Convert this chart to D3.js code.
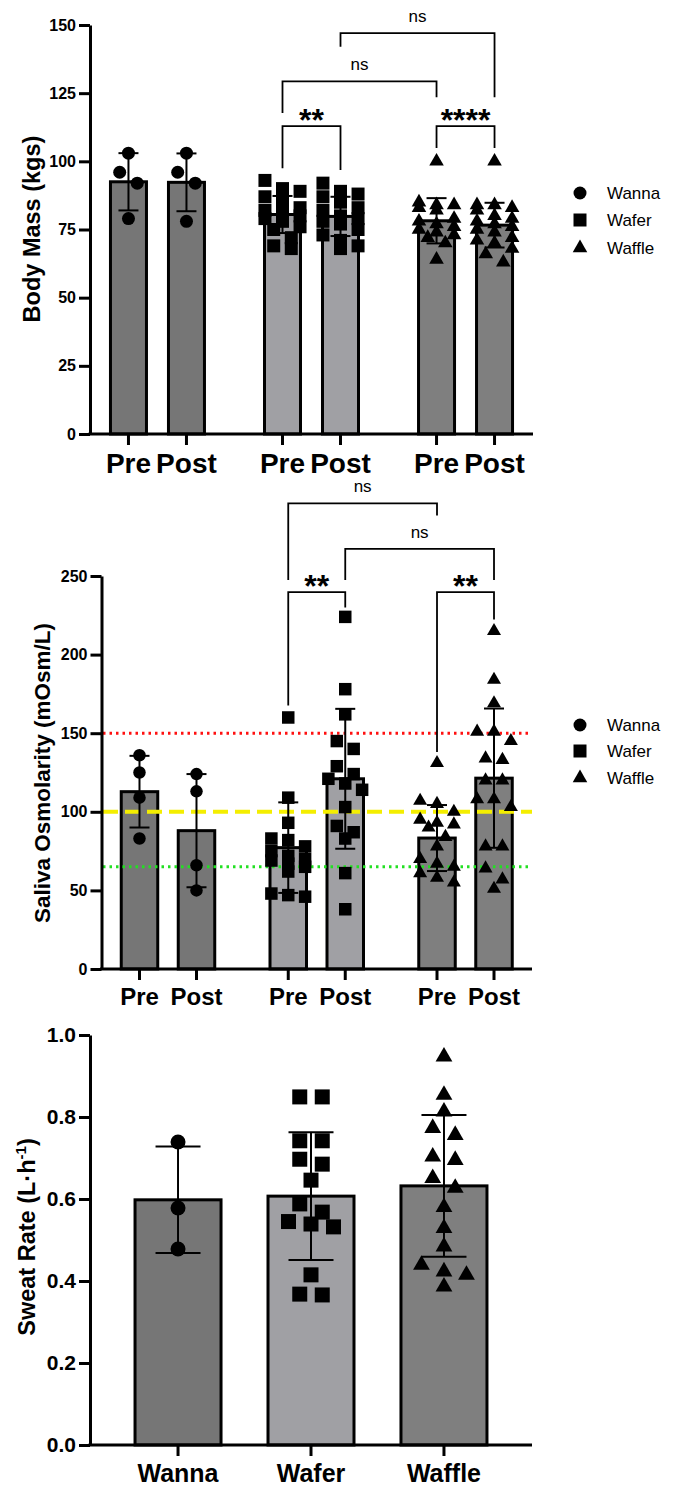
<!DOCTYPE html>
<html><head><meta charset="utf-8">
<script src="https://cdn.jsdelivr.net/npm/d3@7"></script>
<style>
body{margin:0;background:#fff}
svg{display:block}
text{font-family:"Liberation Sans",Arial,Helvetica,sans-serif;fill:#000}
</style>
</head><body>
<svg id="chart" width="675" height="1495"></svg>
<script>
// ---------------- DATA ----------------
const groups = ["Wanna", "Wafer", "Waffle"];
const phases = ["Pre", "Post"];

// Panel 1: Body Mass (kgs)
const massTicks = [0, 25, 50, 75, 100, 125, 150];
const massMean = { Wanna: [92.5, 92.3], Wafer: [80.5, 79.8], Waffle: [78.2, 76.6] };
const massSD   = { Wanna: [10.5, 10.6], Wafer: [6.8, 7.2], Waffle: [8.3, 8.2] };
const massWannaPre   = [103, 96, 92, 79];
const massWannaPost  = [103, 96, 92, 78];
const massWaferPre   = [93, 90, 89, 87, 85, 83, 82, 81, 80, 79, 78, 76, 75, 72, 69, 68];
const massWaferPost  = [92, 89, 88, 87, 85, 83, 82, 80, 79, 78, 77, 75, 73, 71, 69, 68];
const massWafflePre  = [100, 85, 84, 84, 83, 82, 79, 78, 77, 76, 75, 74, 73, 72, 70, 64];
const massWafflePost = [100, 84, 84, 83, 82, 80, 79, 78, 77, 76, 75, 74, 72, 71, 70, 68, 66, 63];
const massBrackets = [
  { a: ["Wafer", "Post"], b: ["Waffle", "Post"], top: 147, endA: 142, endB: 123.5, label: "ns" },
  { a: ["Wafer", "Pre"],  b: ["Waffle", "Pre"],  top: 129.3, endA: 117.7, endB: 123.5, label: "ns" },
  { a: ["Wafer", "Pre"],  b: ["Wafer", "Post"],  top: 112.9, endA: 97.5, endB: 96.8, label: "**" },
  { a: ["Waffle", "Pre"], b: ["Waffle", "Post"], top: 112.9, endA: 104.9, endB: 104.9, label: "****" }
];

// Panel 2: Saliva Osmolarity (mOsm/L)
const osmTicks = [0, 50, 100, 150, 200, 250];
const osmMean = { Wanna: [112.8, 88], Wafer: [77.2, 121], Waffle: [83.3, 121.4] };
const osmSD   = { Wanna: [22.8, 36], Wafer: [28.8, 44.5], Waffle: [21, 44.3] };
const osmWannaPre   = [136, 125, 109, 83];
const osmWannaPost  = [124, 113, 66, 50];
const osmWaferPre   = [160, 109, 93, 83, 82, 78, 75, 72, 70, 69, 67, 65, 62, 48, 47, 46];
const osmWaferPost  = [224, 178, 162, 145, 140, 129, 124, 121, 118, 114, 103, 91, 87, 83, 61, 38];
const osmWafflePre  = [131, 107, 105, 100, 95, 93, 92, 90, 84, 78, 70, 67, 65, 61, 58, 55];
const osmWafflePost = [215, 184, 169, 151, 151, 145, 134, 133, 120, 120, 108, 108, 103, 78, 78, 64, 57, 51];
const osmRefLines = [150, 100, 65]; // red dotted, yellow dashed, green dotted
const osmBrackets = [
  { a: ["Wafer", "Pre"],  b: ["Waffle", "Pre"],  top: 296.2, endA: 247.5, endB: 288.5, label: "ns" },
  { a: ["Wafer", "Post"], b: ["Waffle", "Post"], top: 267.2, endA: 247.5, endB: 247.5, label: "ns" },
  { a: ["Wafer", "Pre"],  b: ["Wafer", "Post"],  top: 239.8, endA: 167.6, endB: 230, label: "**" },
  { a: ["Waffle", "Pre"], b: ["Waffle", "Post"], top: 239.8, endA: 138, endB: 222.3, label: "**" }
];

// Panel 3: Sweat Rate (L·h-1)
const sweatTicks = [0, 0.2, 0.4, 0.6, 0.8, 1.0];
const sweatMean = { Wanna: 0.598, Wafer: 0.607, Waffle: 0.632 };
const sweatSD   = { Wanna: 0.130, Wafer: 0.156, Waffle: 0.173 };
const sweatWanna  = [0.739, 0.578, 0.478];
const sweatWafer  = [0.849, 0.849, 0.742, 0.742, 0.697, 0.685, 0.646, 0.588, 0.568, 0.545, 0.539, 0.532, 0.415, 0.368, 0.366];
const sweatWaffle = [0.947, 0.854, 0.813, 0.773, 0.756, 0.703, 0.695, 0.651, 0.627, 0.580, 0.529, 0.484, 0.439, 0.423, 0.415, 0.386];

// ---------------- STYLE ----------------
const fillOf = { Wanna: "#767676", Wafer: "#a0a0a4", Waffle: "#7f7f7f" };
const shapeOf = { Wanna: d3.symbolCircle, Wafer: d3.symbolSquare, Waffle: d3.symbolTriangle };
const FONT = '"Liberation Sans",Arial,Helvetica,sans-serif';

function symArea(g, s) {
  if (g === "Wanna") return Math.PI * (s / 2) * (s / 2);
  if (g === "Wafer") return s * s;
  return (s * 1.12) * (s * 1.12) * Math.sqrt(3) / 4;
}
function symPath(g, s) { return d3.symbol().type(shapeOf[g]).size(symArea(g, s))(); }

// row-based dodge (beeswarm-like), deterministic
function dodge(vals, y, size, step, maxPerRow) {
  const sorted = vals.map(v => v).sort((a, b) => b - a);
  const rows = []; let cur = null;
  sorted.forEach(v => {
    const py = y(v);
    if (cur && Math.abs(py - cur.y0) < size * 0.95 && cur.pts.length < maxPerRow) cur.pts.push(v);
    else { cur = { y0: py, pts: [v] }; rows.push(cur); }
  });
  const out = [];
  rows.forEach(r => {
    const n = r.pts.length;
    r.pts.forEach((v, k) => out.push({ v, dx: (k - (n - 1) / 2) * step }));
  });
  return out;
}

const svg = d3.select("#chart");

function drawYAxis(g, y, cfg) {
  const ax = d3.axisLeft(y).tickValues(cfg.ticks).tickSize(11).tickSizeOuter(0)
    .tickPadding(cfg.tickPad).tickFormat(cfg.fmt);
  const a = g.append("g").attr("transform", `translate(${cfg.axisX},0)`).call(ax);
  a.select(".domain").attr("stroke", "#000").attr("stroke-width", 3);
  a.selectAll(".tick line").attr("stroke", "#000").attr("stroke-width", 3);
  a.selectAll(".tick text").attr("font-family", FONT).attr("font-weight", "bold")
    .attr("font-size", cfg.tickFont).attr("fill", "#000");
}

function drawXAxis(g, cfg, positions, labels) {
  g.append("line").attr("x1", cfg.axisX - 1.5).attr("x2", cfg.xEnd)
    .attr("y1", cfg.y0).attr("y2", cfg.y0).attr("stroke", "#000").attr("stroke-width", 3);
  g.selectAll(null).data(positions).enter().append("line")
    .attr("x1", d => d).attr("x2", d => d).attr("y1", cfg.y0).attr("y2", cfg.y0 + 11)
    .attr("stroke", "#000").attr("stroke-width", 3);
  g.selectAll(null).data(positions).enter().append("text")
    .attr("x", d => d).attr("y", cfg.xLabelY).attr("text-anchor", "middle")
    .attr("font-weight", "bold").attr("font-size", cfg.xLabelSize)
    .text((d, i) => labels[i]);
}

function drawTitle(g, cfg, build) {
  const t = g.append("text").attr("transform", `translate(${cfg.titleX},${cfg.titleY}) rotate(-90)`)
    .attr("text-anchor", "middle").attr("font-weight", "bold").attr("font-size", cfg.titleSize);
  build(t);
}

function drawLegend(g, x, ys, size) {
  groups.forEach((gr, i) => {
    g.append("path").attr("d", symPath(gr, size)).attr("transform", `translate(${x},${ys[i]})`).attr("fill", "#000");
    g.append("text").attr("x", x + 27).attr("y", ys[i] + 6).attr("font-size", 17).text(gr);
  });
}

function drawBrackets(g, y, xOf, list) {
  list.forEach(b => {
    const x1 = xOf(b.a[0], b.a[1]), x2 = xOf(b.b[0], b.b[1]);
    const yt = y(b.top);
    g.append("path").attr("d", `M${x1},${y(b.endA)}V${yt}H${x2}V${y(b.endB)}`)
      .attr("fill", "none").attr("stroke", "#000").attr("stroke-width", 1.8);
    const mx = (x1 + x2) / 2;
    if (b.label === "ns") {
      g.append("text").attr("x", mx).attr("y", yt - 11).attr("text-anchor", "middle")
        .attr("font-size", 17).text(b.label);
    } else {
      g.append("text").attr("x", mx).attr("y", yt + 5).attr("text-anchor", "middle")
        .attr("font-size", 32).attr("font-weight", "bold").text(b.label);
    }
  });
}

// ---------- Paired panels (1 & 2) ----------
function pairedPanel(cfg) {
  const g = svg.append("g");
  const y = d3.scaleLinear().domain(cfg.domain).range([cfg.y0, cfg.yTop]);
  const gx = d3.scalePoint().domain(groups).range([cfg.axisX, cfg.xEnd]).padding(cfg.pad);
  const inner = d3.scalePoint().domain(phases).range([-cfg.half, cfg.half]);
  const xOf = (gr, ph) => gx(gr) + inner(ph);

  const rows = [];
  groups.forEach(gr => phases.forEach((ph, k) => {
    rows.push({ gr, ph, mean: cfg.mean[gr][k], sd: cfg.sd[gr][k], pts: cfg.points[gr][k] });
  }));

  // bars
  g.selectAll(null).data(rows).enter().append("rect")
    .attr("x", d => xOf(d.gr, d.ph) - cfg.barW / 2).attr("width", cfg.barW)
    .attr("y", d => y(d.mean)).attr("height", d => y(0) - y(d.mean))
    .attr("fill", d => fillOf[d.gr]).attr("stroke", "#000").attr("stroke-width", 3);

  if (cfg.refLines) cfg.refLines(g, y);

  // points
  rows.forEach(d => {
    const pts = dodge(d.pts, y, cfg.mSize, cfg.mSize * 1.35, cfg.maxRow);
    g.selectAll(null).data(pts).enter().append("path")
      .attr("d", symPath(d.gr, cfg.mSize))
      .attr("transform", p => `translate(${xOf(d.gr, d.ph) + p.dx},${y(p.v)})`)
      .attr("fill", "#000");
  });

  // error bars
  rows.forEach(d => {
    const cx = xOf(d.gr, d.ph);
    const hi = y(d.mean + d.sd), lo = y(d.mean - d.sd);
    g.append("line").attr("x1", cx).attr("x2", cx).attr("y1", hi).attr("y2", lo)
      .attr("stroke", "#000").attr("stroke-width", 2);
    [hi, lo].forEach(yy => g.append("line").attr("x1", cx - cfg.capW / 2).attr("x2", cx + cfg.capW / 2)
      .attr("y1", yy).attr("y2", yy).attr("stroke", "#000").attr("stroke-width", 2));
  });

  drawXAxis(g, cfg, rows.map(d => xOf(d.gr, d.ph)), rows.map(d => d.ph));
  drawYAxis(g, y, cfg);
  drawTitle(g, cfg, t => t.text(cfg.title));
  drawLegend(g, 580, cfg.legendY, 13);
  drawBrackets(g, y, xOf, cfg.brackets);
}

pairedPanel({
  domain: [0, 150], ticks: massTicks, fmt: d3.format("d"),
  axisX: 90, xEnd: 533, y0: 434, yTop: 25, pad: 0.438, half: 29,
  barW: 36, capW: 20, mSize: 13, maxRow: 3, tickPad: 3, tickFont: 16,
  xLabelY: 473, xLabelSize: 28,
  title: "Body Mass (kgs)", titleX: 40, titleY: 229, titleSize: 23.5,
  mean: massMean, sd: massSD,
  points: {
    Wanna: [massWannaPre, massWannaPost],
    Wafer: [massWaferPre, massWaferPost],
    Waffle: [massWafflePre, massWafflePost]
  },
  legendY: [193, 220, 248],
  brackets: massBrackets
});

pairedPanel({
  domain: [0, 250], ticks: osmTicks, fmt: d3.format("d"),
  axisX: 101.5, xEnd: 532, y0: 969, yTop: 576, pad: 0.447, half: 28.5,
  barW: 36.5, capW: 20, mSize: 12.5, maxRow: 3, tickPad: 3, tickFont: 16,
  xLabelY: 1005, xLabelSize: 24,
  title: "Saliva Osmolarity (mOsm/L)", titleX: 50, titleY: 773, titleSize: 22.5,
  mean: osmMean, sd: osmSD,
  points: {
    Wanna: [osmWannaPre, osmWannaPost],
    Wafer: [osmWaferPre, osmWaferPost],
    Waffle: [osmWafflePre, osmWafflePost]
  },
  legendY: [725, 751, 778],
  brackets: osmBrackets,
  refLines: (g, y) => {
    const styles = [
      { c: "#ff1010", dash: "2.5,4", w: 3 },
      { c: "#f4ee00", dash: "15,7", w: 4 },
      { c: "#22e022", dash: "2.5,4", w: 3 }
    ];
    g.selectAll(null).data(osmRefLines).enter().append("line")
      .attr("x1", 103).attr("x2", 532)
      .attr("y1", d => y(d)).attr("y2", d => y(d))
      .attr("stroke", (d, i) => styles[i].c).attr("stroke-width", (d, i) => styles[i].w)
      .attr("stroke-dasharray", (d, i) => styles[i].dash);
  }
});

// ---------- Panel 3 ----------
(function () {
  const cfg = {
    axisX: 90, xEnd: 532, y0: 1445, yTop: 1035, tickPad: 3, tickFont: 21,
    ticks: sweatTicks, fmt: d3.format(".1f"),
    xLabelY: 1482, xLabelSize: 25, titleX: 35, titleY: 1237, titleSize: 23.5
  };
  const g = svg.append("g");
  const y = d3.scaleLinear().domain([0, 1]).range([cfg.y0, cfg.yTop]);
  const x = d3.scalePoint().domain(groups).range([cfg.axisX, cfg.xEnd]).padding(0.662);
  const barW = 86, capW = 45, mSize = 15;
  const pts = { Wanna: sweatWanna, Wafer: sweatWafer, Waffle: sweatWaffle };

  g.selectAll(null).data(groups).enter().append("rect")
    .attr("x", d => x(d) - barW / 2).attr("width", barW)
    .attr("y", d => y(sweatMean[d])).attr("height", d => y(0) - y(sweatMean[d]))
    .attr("fill", d => fillOf[d]).attr("stroke", "#000").attr("stroke-width", 3);

  groups.forEach(gr => {
    const dp = dodge(pts[gr], y, mSize, mSize * 1.5, 3);
    g.selectAll(null).data(dp).enter().append("path")
      .attr("d", symPath(gr, mSize))
      .attr("transform", p => `translate(${x(gr) + p.dx},${y(p.v)})`).attr("fill", "#000");
  });

  groups.forEach(gr => {
    const cx = x(gr), hi = y(sweatMean[gr] + sweatSD[gr]), lo = y(sweatMean[gr] - sweatSD[gr]);
    g.append("line").attr("x1", cx).attr("x2", cx).attr("y1", hi).attr("y2", lo)
      .attr("stroke", "#000").attr("stroke-width", 2);
    [hi, lo].forEach(yy => g.append("line").attr("x1", cx - capW / 2).attr("x2", cx + capW / 2)
      .attr("y1", yy).attr("y2", yy).attr("stroke", "#000").attr("stroke-width", 2));
  });

  drawXAxis(g, cfg, groups.map(d => x(d)), groups);
  drawYAxis(g, y, cfg);
  drawTitle(g, cfg, t => {
    t.append("tspan").text("Sweat Rate (L·h");
    t.append("tspan").attr("dy", -9).attr("font-size", 15).text("-1");
    t.append("tspan").attr("dy", 9).text(")");
  });
})();
</script>
</body></html>
